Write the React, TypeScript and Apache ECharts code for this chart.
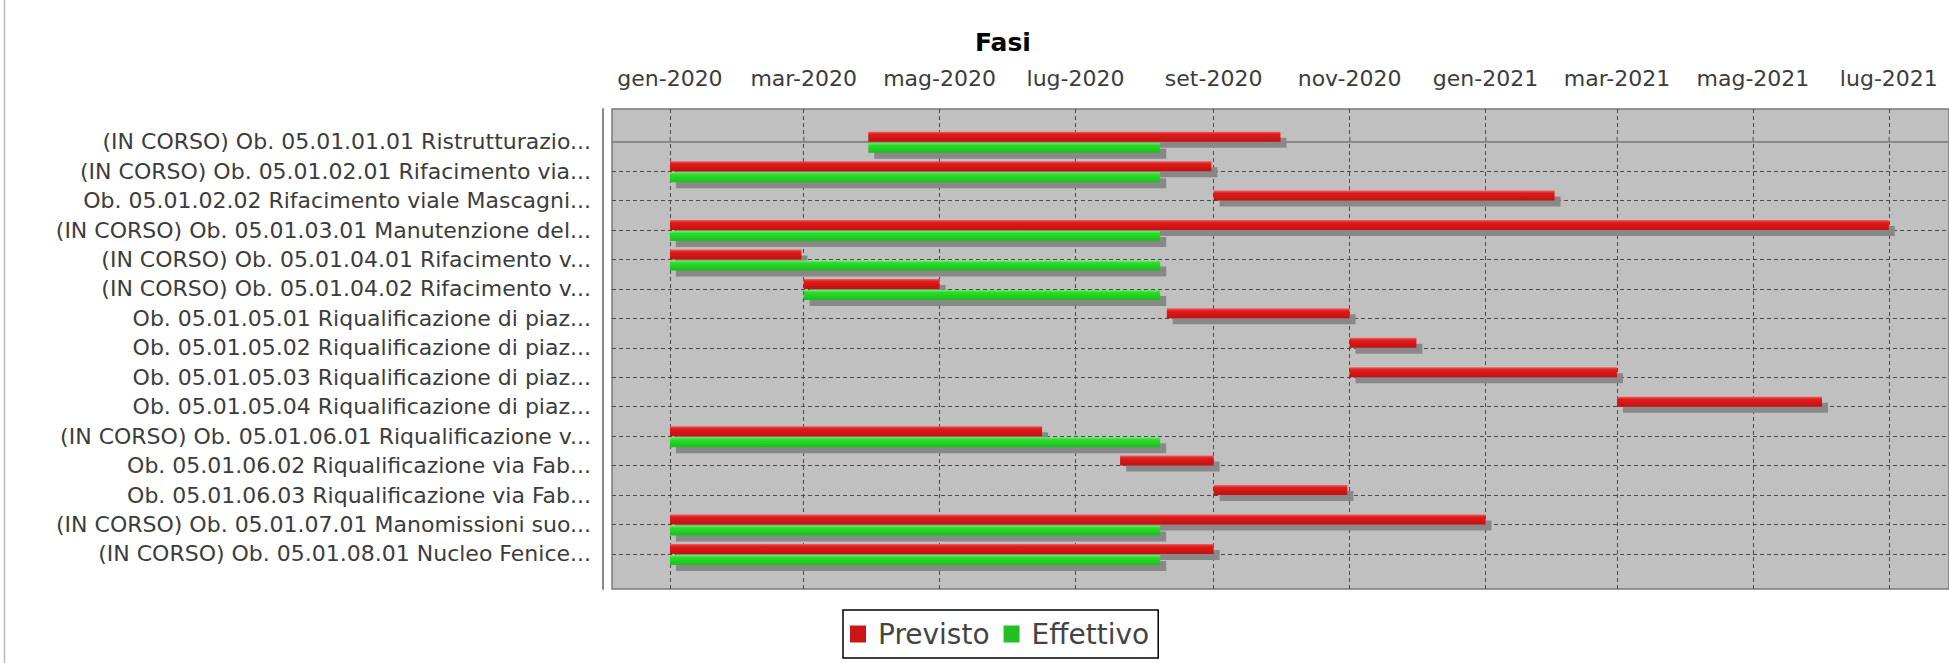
import React, { useEffect, useRef } from 'react';
import * as echarts from 'echarts';

const categories = [
  '(IN CORSO) Ob. 05.01.01.01 Ristrutturazio...',
  '(IN CORSO) Ob. 05.01.02.01 Rifacimento via...',
  'Ob. 05.01.02.02 Rifacimento viale Mascagni...',
  '(IN CORSO) Ob. 05.01.03.01 Manutenzione del...',
  '(IN CORSO) Ob. 05.01.04.01 Rifacimento v...',
  '(IN CORSO) Ob. 05.01.04.02 Rifacimento v...',
  'Ob. 05.01.05.01 Riqualificazione di piaz...',
  'Ob. 05.01.05.02 Riqualificazione di piaz...',
  'Ob. 05.01.05.03 Riqualificazione di piaz...',
  'Ob. 05.01.05.04 Riqualificazione di piaz...',
  '(IN CORSO) Ob. 05.01.06.01 Riqualificazione v...',
  'Ob. 05.01.06.02 Riqualificazione via Fab...',
  'Ob. 05.01.06.03 Riqualificazione via Fab...',
  '(IN CORSO) Ob. 05.01.07.01 Manomissioni suo...',
  '(IN CORSO) Ob. 05.01.08.01 Nucleo Fenice...',
];

const previstoStart = [
  '2020-03-30', '2020-01-01', '2020-09-01', '2020-01-01', '2020-01-01',
  '2020-03-01', '2020-08-11', '2020-11-01', '2020-11-01', '2021-03-01',
  '2020-01-01', '2020-07-21', '2020-09-01', '2020-01-01', '2020-01-01',
];
const previstoEnd = [
  '2020-10-01', '2020-08-31', '2021-02-01', '2021-07-01', '2020-02-29',
  '2020-05-01', '2020-11-01', '2020-12-01', '2021-03-01', '2021-06-01',
  '2020-06-16', '2020-09-01', '2020-10-31', '2021-01-01', '2020-09-01',
];
const effettivoStart: (string | null)[] = [
  '2020-03-30', '2020-01-01', null, '2020-01-01', '2020-01-01',
  '2020-03-01', null, null, null, null,
  '2020-01-01', null, null, '2020-01-01', '2020-01-01',
];
const effettivoEnd: (string | null)[] = [
  '2020-08-08', '2020-08-08', null, '2020-08-08', '2020-08-08',
  '2020-08-08', null, null, null, null,
  '2020-08-08', null, null, '2020-08-08', '2020-08-08',
];

const tickDates = [
  '2020-01-01', '2020-03-01', '2020-05-01', '2020-07-01', '2020-09-01',
  '2020-11-01', '2021-01-01', '2021-03-01', '2021-05-01', '2021-07-01',
];
const tickLabels = [
  'gen-2020', 'mar-2020', 'mag-2020', 'lug-2020', 'set-2020',
  'nov-2020', 'gen-2021', 'mar-2021', 'mag-2021', 'lug-2021',
];
const axisMinDate = '2019-12-06';
const axisMaxDate = '2021-07-28';

const FONT = 'DejaVu Sans';

function toTs(s: string): number {
  const [y, m, d] = s.split('-').map(Number);
  return Date.UTC(y, m - 1, d);
}

export default function App() {
  const ref = useRef<HTMLDivElement>(null);

  useEffect(() => {
    if (!ref.current) return;
    const chart = echarts.init(ref.current, undefined, { renderer: 'svg' });
    const tickTs = tickDates.map(toTs);
    const catIdx = categories.map((_, i) => i);

    const prevData = categories.map((_, i) => [i, toTs(previstoStart[i]), toTs(previstoEnd[i])]);
    const effData: number[][] = [];
    categories.forEach((_, i) => {
      const s = effettivoStart[i];
      const e = effettivoEnd[i];
      if (s && e) effData.push([i, toTs(s), toTs(e)]);
    });

    const redFill = new echarts.graphic.LinearGradient(0, 0, 0, 1, [
      { offset: 0, color: '#f26060' },
      { offset: 0.25, color: '#e01c1c' },
      { offset: 1, color: '#c41010' },
    ]);
    const greenFill = new echarts.graphic.LinearGradient(0, 0, 0, 1, [
      { offset: 0, color: '#70f070' },
      { offset: 0.25, color: '#2cdc2c' },
      { offset: 1, color: '#1abf1a' },
    ]);

    const makeRender = (upper: boolean) => (params: any, api: any) => {
      const cat = api.value(0);
      const s = api.coord([api.value(1), cat]);
      const e = api.coord([api.value(2), cat]);
      const h = 10;
      const y = upper ? s[1] - 10 : s[1] + 1;
      const w = e[0] - s[0];
      return {
        type: 'group',
        children: [
          { type: 'rect', shape: { x: s[0] + 6, y: y + 6, width: w, height: h }, style: { fill: '#888888' } },
          { type: 'rect', shape: { x: s[0], y, width: w, height: h }, style: { fill: upper ? redFill : greenFill } },
        ],
      };
    };

    const dashed = { color: '#4a4a4a', width: 1, type: [4, 3] as any };

    chart.setOption({
      animation: false,
      backgroundColor: '#ffffff',
      title: {
        text: 'Fasi',
        left: 975,
        top: 30,
        padding: 0,
        textStyle: { fontFamily: FONT, fontSize: 25, fontWeight: 'bold', color: '#000' },
      },
      legend: {
        left: 843,
        top: 610,
        orient: 'horizontal',
        icon: 'rect',
        itemWidth: 16,
        itemHeight: 17,
        itemGap: 14,
        borderColor: '#000',
        borderWidth: 1.5,
        padding: [10, 9, 10, 7],
        textStyle: { fontFamily: FONT, fontSize: 28, color: '#444', padding: [0, 0, 0, 7] },
        data: ['Previsto', 'Effettivo'],
      },
      grid: {
        left: 612,
        top: 109,
        width: 1351,
        height: 480,
        show: true,
        backgroundColor: '#c0c0c0',
        borderColor: '#7a7a7a',
        borderWidth: 1.5,
      },
      xAxis: {
        type: 'value',
        position: 'top',
        min: toTs(axisMinDate),
        max: toTs(axisMaxDate),
        offset: 9,
        axisLine: { show: true, lineStyle: { color: '#888', width: 2 } },
        axisTick: { show: true, length: 5, customValues: tickTs, lineStyle: { color: '#888', width: 1.5 } },
        axisLabel: {
          customValues: tickTs,
          formatter: (v: number) => {
            const k = tickTs.findIndex((t) => Math.abs(t - v) < 3600000);
            return k >= 0 ? tickLabels[k] : '';
          },
          fontFamily: FONT,
          fontSize: 22,
          color: '#3c3c3c',
          margin: 11,
        },
        splitLine: { show: true, lineStyle: dashed },
      },
      yAxis: {
        type: 'value',
        inverse: true,
        min: -1.11,
        max: 15.19,
        offset: 9,
        axisLine: { show: true, lineStyle: { color: '#888', width: 2 } },
        axisTick: { show: false, customValues: catIdx },
        axisLabel: {
          customValues: catIdx,
          formatter: (v: number) => categories[Math.round(v)] ?? '',
          fontFamily: FONT,
          fontSize: 22,
          color: '#3c3c3c',
          margin: 12,
        },
        splitLine: { show: true, lineStyle: dashed },
      },
      graphic: [
        { type: 'line', shape: { x1: 4.5, y1: 0, x2: 4.5, y2: 663 }, style: { stroke: '#bbbbbb', lineWidth: 1.5 } },
      ],
      series: [
        {
          name: 'Previsto',
          type: 'custom',
          itemStyle: { color: '#cc1414' },
          encode: { x: [1, 2], y: 0 },
          renderItem: makeRender(true),
          data: prevData,
        },
        {
          name: 'Effettivo',
          type: 'custom',
          itemStyle: { color: '#22c022' },
          encode: { x: [1, 2], y: 0 },
          renderItem: makeRender(false),
          data: effData,
        },
      ],
    });
    return () => chart.dispose();
  }, []);

  return (
    <div
      ref={ref}
      style={{ position: 'fixed', left: 0, top: 0, width: 1949, height: 663 }}
    />
  );
}
